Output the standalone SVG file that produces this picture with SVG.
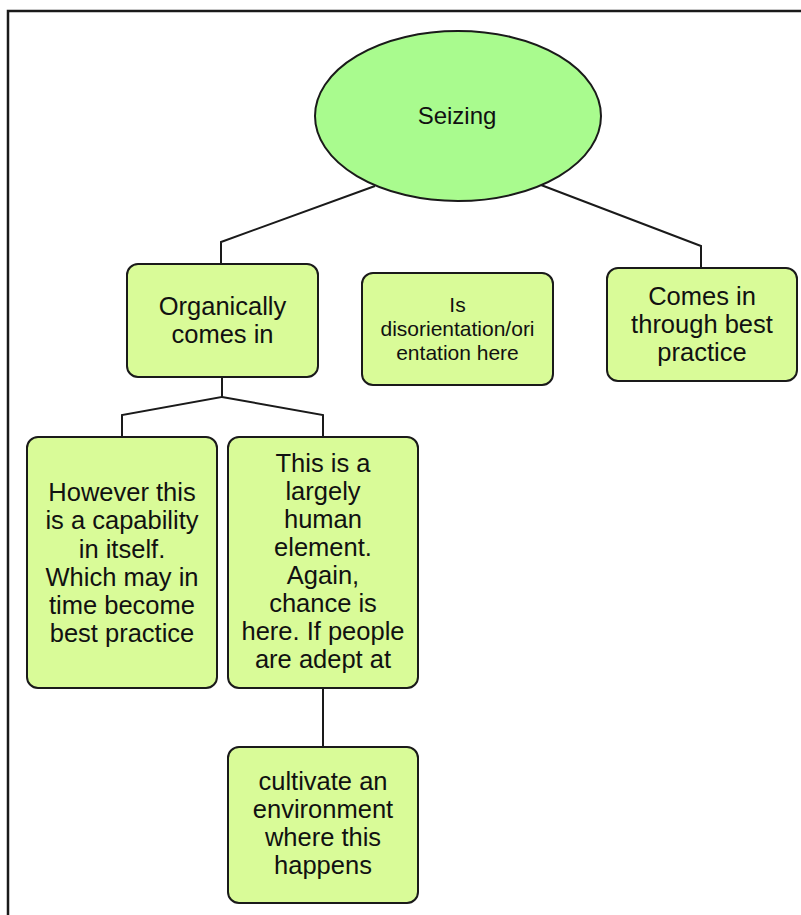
<svg xmlns="http://www.w3.org/2000/svg" width="801" height="915" viewBox="0 0 801 915">
  <style>
    .frame { fill: none; stroke: #1a1a1a; stroke-width: 2.5; }
    .link { fill: none; stroke: #1a1a1a; stroke-width: 2; }
    .root { fill: #a9fb8e; stroke: #1a1a1a; stroke-width: 2; }
    .box { fill: #d9fb98; stroke: #1a1a1a; stroke-width: 2; }
    text { font-family: "Liberation Sans", Arial, Helvetica, sans-serif; fill: #111; text-anchor: middle; }
    .big { font-size: 25.5px; }
    .mid { font-size: 24px; }
    .small { font-size: 21px; }
  </style>

  <rect width="801" height="915" fill="#ffffff"/>
  <!-- page frame, running off the right and bottom edges -->
  <path class="frame" d="M 8 930 V 11 H 815"/>

  <g id="connectors">
    <path class="link" d="M 375 186 L 221 242 V 264"/>
    <path class="link" d="M 541 185 L 701 246 V 268"/>
    <path class="link" d="M 222 377 V 397 L 122 415 V 437"/>
    <path class="link" d="M 222 397 L 323 415 V 437"/>
    <path class="link" d="M 323 688 V 747"/>
  </g>

  <g id="seizing">
    <ellipse class="root" cx="458" cy="116" rx="143" ry="85"/>
    <text class="mid" x="457" y="124">Seizing</text>
  </g>

  <g id="organically">
    <rect class="box" x="127" y="264" width="191" height="113" rx="11"/>
    <text class="big" x="222.5" y="315">Organically</text>
    <text class="big" x="222.5" y="343">comes in</text>
  </g>

  <g id="disorientation">
    <rect class="box" x="362" y="273" width="191" height="112" rx="11"/>
    <text class="small" x="457.5" y="312">Is</text>
    <text class="small" x="457.5" y="336">disorientation/ori</text>
    <text class="small" x="457.5" y="360">entation here</text>
  </g>

  <g id="best-practice">
    <rect class="box" x="607" y="268" width="190" height="113" rx="11"/>
    <text class="big" x="702" y="305">Comes in</text>
    <text class="big" x="702" y="333">through best</text>
    <text class="big" x="702" y="361">practice</text>
  </g>

  <g id="capability">
    <rect class="box" x="27" y="437" width="190" height="251" rx="11"/>
    <text class="big" x="122" y="501">However this</text>
    <text class="big" x="122" y="529">is a capability</text>
    <text class="big" x="122" y="557.5">in itself.</text>
    <text class="big" x="122" y="586">Which may in</text>
    <text class="big" x="122" y="614">time become</text>
    <text class="big" x="122" y="642">best practice</text>
  </g>

  <g id="human-element">
    <rect class="box" x="228" y="437" width="190" height="251" rx="11"/>
    <text class="big" x="323" y="472">This is a</text>
    <text class="big" x="323" y="500">largely</text>
    <text class="big" x="323" y="528">human</text>
    <text class="big" x="323" y="556">element.</text>
    <text class="big" x="323" y="584">Again,</text>
    <text class="big" x="323" y="612">chance is</text>
    <text class="big" x="323" y="640">here. If people</text>
    <text class="big" x="323" y="668">are adept at</text>
  </g>

  <g id="cultivate">
    <rect class="box" x="228" y="747" width="190" height="156" rx="11"/>
    <text class="big" x="323" y="790">cultivate an</text>
    <text class="big" x="323" y="818">environment</text>
    <text class="big" x="323" y="846">where this</text>
    <text class="big" x="323" y="874">happens</text>
  </g>
</svg>
